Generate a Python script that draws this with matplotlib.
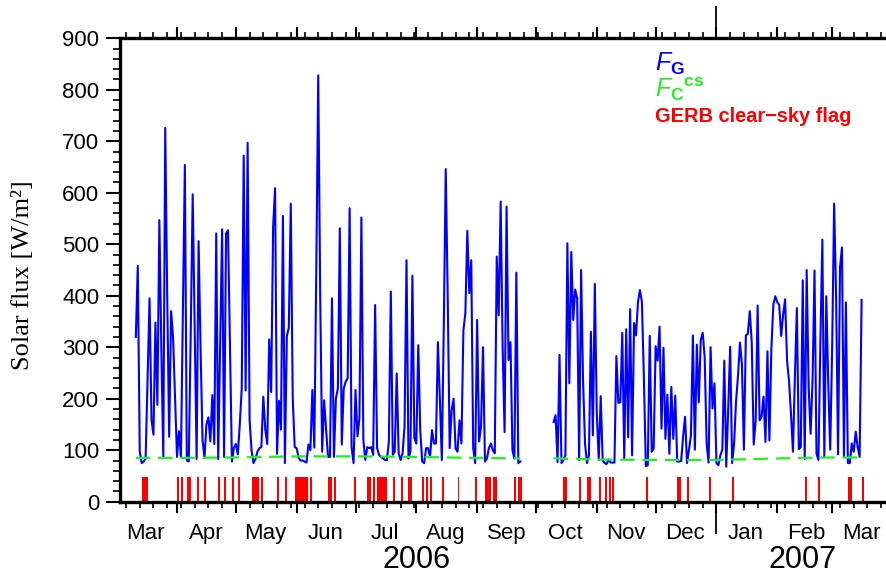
import numpy as np
import pandas as pd
import matplotlib
matplotlib.use('Agg')
import matplotlib.pyplot as plt
import matplotlib.dates as mdates
import matplotlib.transforms as mtransforms
from matplotlib.ticker import MultipleLocator

plt.rcParams['font.family'] = 'Liberation Sans'
plt.rcParams['mathtext.fontset'] = 'custom'
plt.rcParams['mathtext.rm'] = 'Liberation Sans'
plt.rcParams['mathtext.it'] = 'Liberation Sans:italic'
plt.rcParams['mathtext.bf'] = 'Liberation Sans:bold'

# daily all-sky flux F_G, two blocks with a gap in between
fg_start_1 = '2006-03-11'
fg_1 = [320, 458, 97, 75, 78, 84, 240, 395, 159, 130, 348, 188, 547, 300, 87, 726,
        400, 126, 370, 318, 200, 87, 137, 87, 370, 654, 80, 78, 330, 597, 340, 83,
        506, 300, 120, 85, 150, 164, 117, 207, 112, 521, 83, 300, 529, 87, 521, 527,
        300, 78, 105, 112, 92, 150, 220, 672, 216, 697, 159, 100, 75, 83, 97, 104,
        106, 204, 140, 112, 315, 213, 534, 609, 93, 196, 140, 555, 75, 322, 338, 579,
        200, 106, 104, 85, 80, 80, 78, 76, 111, 100, 217, 105, 450, 828, 400, 97,
        197, 140, 87, 87, 395, 87, 200, 220, 531, 111, 220, 233, 240, 570, 106, 75,
        217, 127, 162, 552, 120, 81, 106, 104, 106, 91, 382, 104, 91, 87, 84, 81,
        81, 117, 408, 91, 97, 249, 94, 81, 94, 146, 469, 84, 97, 439, 123, 113,
        304, 139, 78, 75, 104, 104, 87, 139, 113, 113, 310, 200, 81, 340, 646, 400,
        104, 178, 200, 104, 97, 158, 113, 333, 366, 526, 405, 469, 104, 75, 353, 117,
        146, 300, 78, 84, 104, 113, 100, 94, 476, 362, 583, 300, 135, 573, 275, 310,
        100, 84, 445, 75, 78]
fg_start_2 = '2006-10-10'
fg_2 = [155, 168, 77, 285, 75, 81, 90, 502, 230, 485, 353, 412, 395, 81, 450, 236,
        113, 75, 90, 330, 129, 423, 171, 81, 205, 81, 75, 73, 82, 76, 76, 76,
        283, 192, 193, 328, 84, 335, 125, 374, 90, 347, 323, 388, 411, 388, 243, 69,
        71, 322, 97, 103, 302, 274, 340, 142, 299, 122, 208, 93, 223, 122, 206, 78,
        78, 79, 126, 165, 75, 101, 129, 323, 101, 305, 193, 314, 328, 281, 113, 76,
        300, 181, 230, 75, 71, 90, 101, 274, 68, 180, 301, 75, 113, 195, 245, 309,
        266, 101, 323, 326, 370, 309, 111, 158, 381, 158, 165, 204, 116, 292, 119, 297,
        382, 399, 388, 382, 322, 363, 393, 274, 235, 171, 97, 243, 376, 102, 106, 430,
        83, 450, 223, 132, 235, 449, 93, 81, 314, 509, 87, 399, 230, 101, 300, 579,
        400, 92, 455, 494, 87, 387, 75, 75, 113, 97, 136, 106, 87, 392]

# clear-sky flux F_C^cs read at a few dates
fc_dates_1 = ['2006-03-11', '2006-04-01', '2006-05-01', '2006-06-01', '2006-07-01',
              '2006-08-01', '2006-09-01', '2006-09-23']
fc_vals_1 = [85, 85, 86, 88, 88, 87, 85, 84]
fc_dates_2 = ['2006-10-10', '2006-11-01', '2006-12-01', '2007-01-01', '2007-02-01',
              '2007-03-01', '2007-03-16']
fc_vals_2 = [84, 82, 81, 81, 84, 86, 86]

# days with the GERB clear-sky flag set
flag_dates = ['2006-03-14', '2006-03-15', '2006-03-16', '2006-04-01', '2006-04-03',
              '2006-04-06', '2006-04-07', '2006-04-11', '2006-04-15', '2006-04-22',
              '2006-04-25', '2006-04-29', '2006-05-02', '2006-05-09', '2006-05-10',
              '2006-05-11', '2006-05-12', '2006-05-14', '2006-05-22', '2006-05-26',
              '2006-05-31', '2006-06-01', '2006-06-02', '2006-06-03', '2006-06-04',
              '2006-06-05', '2006-06-06', '2006-06-08', '2006-06-17', '2006-06-18',
              '2006-06-20', '2006-06-30', '2006-07-07', '2006-07-08', '2006-07-10',
              '2006-07-12', '2006-07-13', '2006-07-14', '2006-07-15', '2006-07-16',
              '2006-07-20', '2006-07-24', '2006-07-28', '2006-07-29', '2006-08-04',
              '2006-08-06', '2006-08-08', '2006-08-14', '2006-08-22', '2006-08-31',
              '2006-09-05', '2006-09-06', '2006-09-07', '2006-09-09', '2006-09-10',
              '2006-09-20', '2006-09-22', '2006-09-23', '2006-10-15', '2006-10-16',
              '2006-10-23', '2006-10-27', '2006-10-28', '2006-11-02', '2006-11-05',
              '2006-11-07', '2006-11-09', '2006-11-26', '2006-12-12', '2006-12-13',
              '2006-12-17', '2006-12-28', '2007-01-09', '2007-02-15', '2007-02-22',
              '2007-03-09', '2007-03-10', '2007-03-16']
flag_height = 48

month_names = ['Mar', 'Apr', 'May', 'Jun', 'Jul', 'Aug', 'Sep', 'Oct', 'Nov', 'Dec',
               'Jan', 'Feb', 'Mar']
year_names = ['2006', '2007']
year_label_dates = ['2006-08-01', '2007-02-14']

d1 = pd.date_range(fg_start_1, periods=len(fg_1), freq='D')
d2 = pd.date_range(fg_start_2, periods=len(fg_2), freq='D')

fig = plt.figure(figsize=(8.87, 5.76), dpi=100)
ax = fig.add_axes([120 / 887, 1 - 501.7 / 576, 772 / 887, 463.4 / 576])

ax.bar(pd.to_datetime(flag_dates), flag_height, width=1.0, align='edge',
       color='#ff0000', linewidth=0, zorder=2)
for d, v in ((d1, fg_1), (d2, fg_2)):
    ax.plot(d, v, color='#0000ff', lw=1.5, zorder=3)
for d, v in ((fc_dates_1, fc_vals_1), (fc_dates_2, fc_vals_2)):
    ax.plot(pd.to_datetime(d), v, color='#1ff01f', lw=1.6, dashes=(6.5, 3.5), zorder=4)

ax.set_xlim(pd.Timestamp('2006-03-02 22:30'), pd.Timestamp('2007-03-31 12:00'))
ax.set_ylim(0, 900)

for s in ['left', 'top', 'bottom']:
    ax.spines[s].set_linewidth(2.4)
ax.spines['right'].set_visible(False)

ax.yaxis.set_major_locator(MultipleLocator(100))
ax.yaxis.set_minor_locator(MultipleLocator(20))
ax.xaxis.set_major_locator(mdates.MonthLocator())
ax.xaxis.set_minor_locator(mdates.WeekdayLocator(byweekday=mdates.MO))
ax.xaxis.set_major_formatter(plt.NullFormatter())
ax.tick_params(axis='y', which='major', direction='out', length=10, width=1.5,
               labelsize=16, pad=5, right=False)
ax.tick_params(axis='y', which='minor', direction='out', length=5, width=1.2, right=False)
ax.tick_params(axis='x', which='major', direction='out', length=8, width=1.5, top=True)
ax.tick_params(axis='x', which='minor', direction='out', length=4.5, width=1.2, top=True)

ax.set_ylabel('Solar flux [W/m²]', family='Liberation Serif', fontsize=19)
ax.yaxis.set_label_coords(-0.112, 0.488)

trans = mtransforms.blended_transform_factory(ax.transData, ax.transAxes)
month_mid = pd.date_range('2006-03-01', periods=len(month_names), freq='MS') + pd.Timedelta(days=15)
for m, name in zip(month_mid, month_names):
    ax.text(m, -0.0805, name, transform=trans, ha='center', va='baseline', fontsize=16)
for d, name in zip(year_label_dates, year_names):
    ax.text(pd.Timestamp(d), -0.143, name, transform=trans, ha='center', va='baseline',
            fontsize=22)

# year separator at 1 January 2007
jan = pd.Timestamp('2007-01-01')
ax.plot([jan, jan], [1, 1.0675], transform=trans, color='black', lw=1.3, clip_on=False)
ax.plot([jan, jan], [0, -0.0675], transform=trans, color='black', lw=1.3, clip_on=False)

fig.text(655 / 887, 1 - 71 / 576, r'$F_{\mathbf{G}}$', color='#0000ff', fontsize=18,
         va='baseline')
fig.text(655 / 887, 1 - 96.7 / 576, r'${F_{\mathbf{C}}}^{\mathbf{cs}}$', color='#1ff01f',
         fontsize=18, va='baseline')
fig.text(655 / 887, 1 - 121.7 / 576, 'GERB clear\u2212sky flag', color='#ff0000',
         fontsize=14.4, fontweight='bold', va='baseline')

fig.savefig('out.png', dpi=100)
